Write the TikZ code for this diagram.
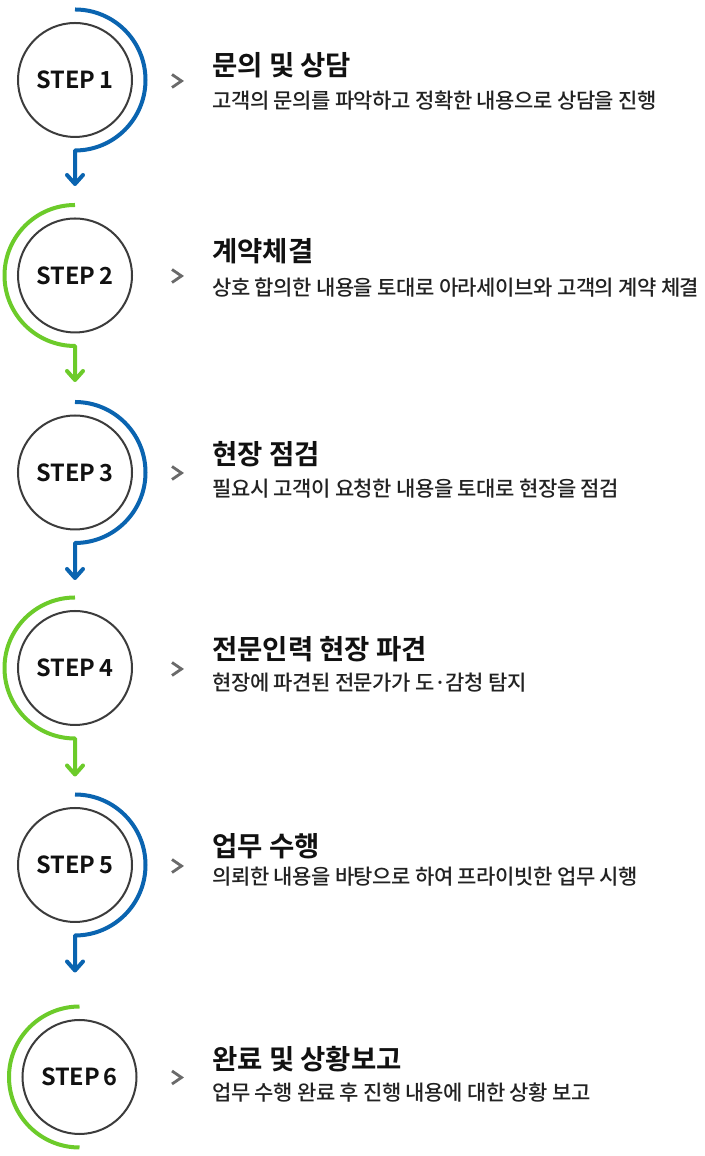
\documentclass[tikz,border=0pt]{standalone}
\usepackage{fontspec}
\setmainfont{Noto Sans CJK KR}
\newfontfamily\krbold{Noto Sans CJK KR Bold}
\newfontfamily\krmed{Noto Sans CJK KR Medium}[LetterSpace=-2]
\definecolor{arcblue}{HTML}{0A64B0}
\definecolor{arcgreen}{HTML}{6CCB2A}
\definecolor{ringgray}{HTML}{3C3C3C}
\definecolor{chevgray}{HTML}{6A6A6A}
\definecolor{titlecol}{HTML}{111111}
\definecolor{desccol}{HTML}{222222}
\tikzset{
  ring/.style={circle, draw=ringgray, line width=2pt, minimum size=114pt, inner sep=0pt,
    font=\krbold\fontsize{23.5}{23.5}\selectfont, text=titlecol},
  bluearc/.style={draw=arcblue, line width=4pt, line join=round},
  greenarc/.style={draw=arcgreen, line width=4pt, line join=round},
  headv/.style={line width=4pt, line cap=round, line join=round},
  chev/.style={draw=chevgray, line width=2.8pt, line join=miter},
  ttl/.style={anchor=west, inner sep=0pt, text=titlecol, font=\krbold\fontsize{27.5}{27.5}\selectfont},
  dsc/.style={anchor=west, inner sep=0pt, text=desccol, font=\krmed\fontsize{21}{21}\selectfont},
}
\begin{document}
\begin{tikzpicture}[x=1pt,y=1pt]
\fill[white] (0,0) rectangle (704,1156);
\useasboundingbox (0,0) rectangle (704,1156);

% STEP 1
\node[ring] (c1) at (75,1076) {STEP\,1};
\coordinate (a1s) at (75,1146.5);
\coordinate (a1t) at (75,972);
\draw[bluearc] (a1s) arc[start angle=90, end angle=-90, radius=70.5] -- (a1t);
\draw[headv, arcblue] ([xshift=-8pt,yshift=9pt]a1t) -- (a1t) -- ([xshift=8pt,yshift=9pt]a1t);
\coordinate (k1) at (177,1075);
\draw[chev] ([xshift=-5pt,yshift=6.5pt]k1) -- ([xshift=4.5pt]k1) -- ([xshift=-5pt,yshift=-6.5pt]k1);
\node[ttl] (t1) at (212,1091) {문의 및 상담};
\node[dsc] (d1) at (212,1055) {고객의 문의를 파악하고 정확한 내용으로 상담을 진행};

% STEP 2
\node[ring] (c2) at (75,880.5) {STEP\,2};
\coordinate (a2s) at (75,951);
\coordinate (a2t) at (75,776);
\draw[greenarc] (a2s) arc[start angle=90, end angle=270, radius=70.5] -- (a2t);
\draw[headv, arcgreen] ([xshift=-8pt,yshift=9pt]a2t) -- (a2t) -- ([xshift=8pt,yshift=9pt]a2t);
\coordinate (k2) at (177,880);
\draw[chev] ([xshift=-5pt,yshift=6.5pt]k2) -- ([xshift=4.5pt]k2) -- ([xshift=-5pt,yshift=-6.5pt]k2);
\node[ttl] (t2) at (212,905) {계약체결};
\node[dsc] (d2) at (212,868) {상호 합의한 내용을 토대로 아라세이브와 고객의 계약 체결};

% STEP 3
\node[ring] (c3) at (75,683.5) {STEP\,3};
\coordinate (a3s) at (75,754);
\coordinate (a3t) at (75,578);
\draw[bluearc] (a3s) arc[start angle=90, end angle=-90, radius=70.5] -- (a3t);
\draw[headv, arcblue] ([xshift=-8pt,yshift=9pt]a3t) -- (a3t) -- ([xshift=8pt,yshift=9pt]a3t);
\coordinate (k3) at (177,683);
\draw[chev] ([xshift=-5pt,yshift=6.5pt]k3) -- ([xshift=4.5pt]k3) -- ([xshift=-5pt,yshift=-6.5pt]k3);
\node[ttl] (t3) at (212,702) {현장 점검};
\node[dsc] (d3) at (212,667) {필요시 고객이 요청한 내용을 토대로 현장을 점검};

% STEP 4
\node[ring] (c4) at (75,488) {STEP\,4};
\coordinate (a4s) at (75,558.5);
\coordinate (a4t) at (75,381.5);
\draw[greenarc] (a4s) arc[start angle=90, end angle=270, radius=70.5] -- (a4t);
\draw[headv, arcgreen] ([xshift=-8pt,yshift=9pt]a4t) -- (a4t) -- ([xshift=8pt,yshift=9pt]a4t);
\coordinate (k4) at (177,487);
\draw[chev] ([xshift=-5pt,yshift=6.5pt]k4) -- ([xshift=4.5pt]k4) -- ([xshift=-5pt,yshift=-6.5pt]k4);
\node[ttl] (t4) at (212,506.5) {전문인력 현장 파견};
\node[dsc] (d4) at (212,473) {현장에 파견된 전문가가 도·감청 탐지};

% STEP 5
\node[ring] (c5) at (75,291) {STEP\,5};
\coordinate (a5s) at (75,361.5);
\coordinate (a5t) at (75,185.5);
\draw[bluearc] (a5s) arc[start angle=90, end angle=-90, radius=70.5] -- (a5t);
\draw[headv, arcblue] ([xshift=-8pt,yshift=9pt]a5t) -- (a5t) -- ([xshift=8pt,yshift=9pt]a5t);
\coordinate (k5) at (177,290);
\draw[chev] ([xshift=-5pt,yshift=6.5pt]k5) -- ([xshift=4.5pt]k5) -- ([xshift=-5pt,yshift=-6.5pt]k5);
\node[ttl] (t5) at (212,310) {업무 수행};
\node[dsc] (d5) at (212,279) {의뢰한 내용을 바탕으로 하여 프라이빗한 업무 시행};

% STEP 6
\node[ring] (c6) at (79.5,79) {STEP\,6};
\coordinate (a6s) at (79.5,149.5);
\draw[greenarc] (a6s) arc[start angle=90, end angle=270, radius=70.5];
\coordinate (k6) at (177,78.5);
\draw[chev] ([xshift=-5pt,yshift=6.5pt]k6) -- ([xshift=4.5pt]k6) -- ([xshift=-5pt,yshift=-6.5pt]k6);
\node[ttl] (t6) at (212,97) {완료 및 상황보고};
\node[dsc] (d6) at (212,63) {업무 수행 완료 후 진행 내용에 대한 상황 보고};
\end{tikzpicture}
\end{document}
